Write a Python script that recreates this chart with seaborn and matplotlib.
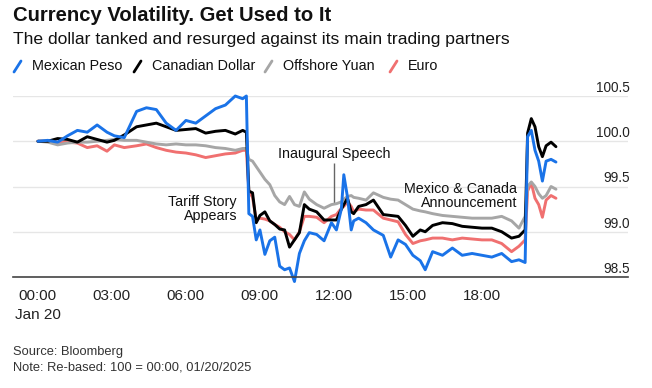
import matplotlib
matplotlib.use("Agg")
import matplotlib.pyplot as plt
from matplotlib.lines import Line2D
import pandas as pd
import seaborn as sns

# hours after 00:00 Jan 20, re-based index (100 = 00:00)
hours = [0, 0.4, 0.8, 1.2, 1.6, 2.0, 2.4, 2.8, 3.1, 3.5, 4.0, 4.4, 4.8, 5.2, 5.6,
         6.0, 6.4, 6.8, 7.2, 7.6, 8.0, 8.3, 8.45, 8.55, 8.7, 8.85, 9.0, 9.2, 9.4,
         9.6, 9.8, 10.0, 10.2, 10.4, 10.6, 10.8, 11.0, 11.3, 11.6, 11.9, 12.1,
         12.3, 12.4, 12.55, 12.7, 12.8, 13.0, 13.3, 13.6, 14.0, 14.3, 14.6, 14.9,
         15.2, 15.5, 15.7, 16.0, 16.4, 16.8, 17.2, 17.6, 18.0, 18.4, 18.8, 19.2,
         19.5, 19.75, 19.85, 20.0, 20.15, 20.3, 20.45, 20.6, 20.8, 21.0]

peso = [100.00, 100.01, 99.99, 100.06, 100.12, 100.10, 100.18, 100.10, 100.06, 100.04,
        100.33, 100.37, 100.35, 100.20, 100.12, 100.23, 100.20, 100.28, 100.36, 100.40,
        100.50, 100.47, 100.50, 99.20, 99.17, 98.91, 99.02, 98.75, 98.90, 98.94,
        98.62, 98.58, 98.60, 98.45, 98.76, 98.90, 98.99, 98.97, 98.90, 99.10,
        99.02, 99.25, 99.63, 99.38, 99.02, 99.12, 99.15, 99.10, 99.02, 98.96,
        98.72, 98.91, 98.86, 98.74, 98.68, 98.58, 98.78, 98.74, 98.82, 98.74,
        98.76, 98.74, 98.72, 98.76, 98.67, 98.69, 98.66, 100.05, 100.12, 99.90,
        99.78, 99.56, 99.78, 99.80, 99.77]

cad = [100.00, 100.00, 100.03, 100.02, 99.99, 100.05, 100.02, 99.99, 100.01, 100.07,
       100.16, 100.18, 100.20, 100.16, 100.12, 100.13, 100.14, 100.09, 100.11, 100.12,
       100.08, 100.12, 100.10, 99.45, 99.43, 99.10, 99.18, 99.22, 99.12, 99.08,
       99.03, 99.02, 98.83, 98.91, 98.99, 99.30, 99.25, 99.22, 99.13, 99.13,
       99.13, 99.25, 99.30, 99.37, 99.22, 99.20, 99.28, 99.30, 99.35, 99.19,
       99.18, 99.17, 99.07, 98.95, 99.02, 99.00, 99.07, 99.10, 99.09, 99.06,
       99.05, 99.04, 99.04, 99.00, 98.93, 98.95, 99.02, 100.09, 100.25, 100.16,
       99.94, 99.83, 99.95, 99.99, 99.94]

yuan = [100.00, 99.99, 99.96, 99.98, 99.99, 99.99, 100.00, 100.01, 100.02, 100.01,
        100.01, 99.99, 99.97, 99.96, 99.97, 99.96, 99.96, 99.95, 99.93, 99.92,
        99.90, 99.92, 99.92, 99.80, 99.78, 99.72, 99.66, 99.58, 99.52, 99.40,
        99.33, 99.30, 99.39, 99.30, 99.28, 99.44, 99.36, 99.30, 99.26, 99.30,
        99.31, 99.33, 99.36, 99.39, 99.40, 99.38, 99.37, 99.35, 99.43, 99.38,
        99.36, 99.35, 99.30, 99.25, 99.23, 99.22, 99.20, 99.18, 99.17, 99.16,
        99.15, 99.15, 99.15, 99.17, 99.12, 99.04, 99.17, 99.50, 99.55, 99.50,
        99.42, 99.37, 99.40, 99.50, 99.47]

euro = [100.00, 100.00, 99.99, 99.99, 99.98, 99.93, 99.95, 99.89, 99.96, 99.93,
        99.95, 99.97, 99.93, 99.90, 99.88, 99.87, 99.85, 99.82, 99.84, 99.86,
        99.87, 99.90, 99.90, 99.45, 99.38, 99.13, 99.15, 99.14, 99.12, 99.08,
        99.05, 99.00, 98.97, 98.91, 99.00, 99.17, 99.17, 99.16, 99.10, 99.17,
        99.19, 99.26, 99.28, 99.33, 99.28, 99.22, 99.25, 99.24, 99.24, 99.15,
        99.13, 99.11, 98.97, 98.87, 98.90, 98.91, 98.93, 98.93, 98.91, 98.93,
        98.92, 98.91, 98.91, 98.87, 98.78, 98.84, 98.91, 99.45, 99.54, 99.37,
        99.30, 99.16, 99.35, 99.40, 99.37]

series_names = ["Mexican Peso", "Canadian Dollar", "Offshore Yuan", "Euro"]
series_colors = ["#1a73e8", "#000000", "#a6a6a6", "#f07070"]

tick_hours = [0, 3, 6, 9, 12, 15, 18]
tick_labels = ["00:00\nJan 20", "03:00", "06:00", "09:00", "12:00", "15:00", "18:00"]
y_ticks = [98.5, 99.0, 99.5, 100.0, 100.5]

W, H = 652, 388


def fx(px):
    return px / W


def fy(py):
    return 1 - py / H


sns.set_style("white")
plt.rcParams["font.family"] = ["Liberation Sans", "DejaVu Sans"]

fig = plt.figure(figsize=(W / 100, H / 100), dpi=100)
ax = fig.add_axes([fx(13), fy(277), 615 / W, 181 / H])

df = pd.DataFrame({"hour": hours, "Mexican Peso": peso, "Canadian Dollar": cad,
                   "Offshore Yuan": yuan, "Euro": euro})
df = df.melt(id_vars="hour", var_name="currency", value_name="value")

# peso drawn last so it sits on top
draw_order = series_names[::-1]
sns.lineplot(data=df, x="hour", y="value", hue="currency", hue_order=draw_order,
             palette=dict(zip(series_names, series_colors)), estimator=None,
             sort=False, lw=2.1, legend=False, ax=ax)
for line in ax.lines:
    line.set_clip_on(False)
    line.set_solid_joinstyle("round")

ax.set_xlim(-1.01, 23.92)
ax.set_ylim(98.5, 100.5)
ax.set_yticks(y_ticks)
ax.tick_params(axis="y", left=False, labelleft=False)
ax.grid(axis="y", color="#e6e6e6", lw=1)
ax.set_axisbelow(True)
ax.set_xlabel("")
ax.set_ylabel("")
for side in ["top", "left", "right"]:
    ax.spines[side].set_visible(False)
ax.spines["bottom"].set_color("#444444")
ax.spines["bottom"].set_linewidth(1.2)

ax.set_xticks(tick_hours, tick_labels)
ax.tick_params(axis="x", length=4.3, width=1, color="#444444", labelsize=11,
               pad=4.5, labelcolor="#222222")
for lab in ax.get_xticklabels():
    lab.set_linespacing(1.45)

for v in y_ticks:
    ax.annotate(f"{v:.1f}", xy=(1, v), xycoords=ax.get_yaxis_transform(),
                xytext=(2, 4), textcoords="offset pixels", ha="right",
                va="baseline", fontsize=9.8, color="#222222")

# event annotations
ax.text(8.07, 99.25, "Tariff Story\nAppears", ha="right", va="center",
        fontsize=10.3, linespacing=1.05, color="#111111")
ax.text(12.0, 99.815, "Inaugural Speech", ha="center", va="baseline",
        fontsize=10.3, color="#111111")
ax.vlines(12.0, 99.32, 99.76, color="#666666", lw=1, zorder=1.5)
ax.text(19.42, 99.395, "Mexico & Canada\nAnnouncement", ha="right", va="center",
        fontsize=10.3, linespacing=1.05, color="#111111")

# header
fig.text(fx(13), fy(21), "Currency Volatility. Get Used to It", fontsize=14.6,
         fontweight="bold", va="baseline", color="#111111")
fig.text(fx(13), fy(44), "The dollar tanked and resurged against its main trading partners",
         fontsize=12.6, va="baseline", color="#111111")

legend_x = [14, 134, 265, 390]
for x0, name, color in zip(legend_x, series_names, series_colors):
    fig.add_artist(Line2D([fx(x0), fx(x0 + 7)], [fy(72), fy(61)], color=color,
                          lw=2, transform=fig.transFigure))
    fig.text(fx(x0 + 18), fy(70), name, fontsize=10.4, va="baseline", color="#111111")

fig.text(fx(13), fy(355), "Source: Bloomberg", fontsize=9.3, va="baseline", color="#333333")
fig.text(fx(13), fy(370), "Note: Re-based: 100 = 00:00, 01/20/2025", fontsize=9.3,
         va="baseline", color="#333333")

fig.savefig("out.png", dpi=100)
